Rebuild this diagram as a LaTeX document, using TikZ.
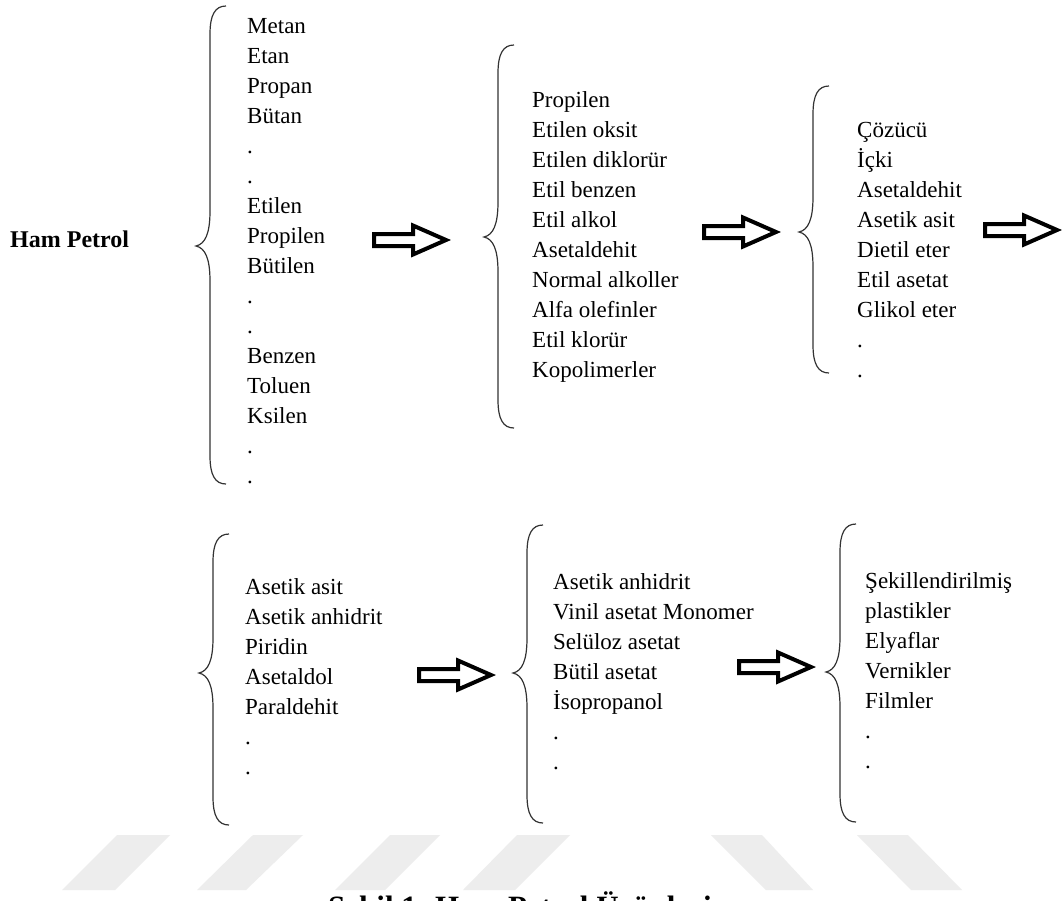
\documentclass[tikz,border=0pt]{standalone}
\usepackage{fontspec}
\setmainfont{Liberation Serif}

\tikzset{
  item/.style={anchor=base west, inner sep=0pt, font=\fontsize{23}{28}\selectfont},
  headline/.style={anchor=base west, inner sep=0pt, font=\bfseries\fontsize{24}{28}\selectfont},
  captiontext/.style={anchor=base west, inner sep=0pt, font=\bfseries\fontsize{31}{36}\selectfont},
  bracestroke/.style={draw=black!80, line width=1.2pt},
  wm/.style={fill=black!7, draw=none},
  % hollow block arrow, left end of the shaft at the origin
  blockarrow/.pic={
    \draw[line width=4pt, line join=miter, miter limit=10]
      (0,-6) -- (39,-6) -- (39,-14.5) -- (72,0) -- (39,14.5) -- (39,6) -- (0,6) -- cycle;
  }
}

% left curly brace: #1 stem x, #2 top y, #3 tip y, #4 bottom y
\newcommand\leftcurly[4]{%
  \draw[bracestroke]
    (#1+16,#2) .. controls (#1+5,#2) and (#1,#2+9) .. (#1,#2+28)
    -- (#1,#3-35)
    .. controls (#1,#3-12) and (#1-5,#3-2) .. (#1-14,#3)
    .. controls (#1-5,#3+2) and (#1,#3+12) .. (#1,#3+35)
    -- (#1,#4-28)
    .. controls (#1,#4-9) and (#1+5,#4) .. (#1+16,#4);}

% column of items: #1 name prefix, #2 x, #3 first baseline, #4 entries
\newcommand\itemcolumn[4]{%
  \foreach \t [count=\i] in {#4}
    \node[item] (#1-\i) at (#2,#3+30*\i-30) {\t};}

\begin{document}
\begin{tikzpicture}[x=1pt,y=-1pt]
\useasboundingbox (0,0) rectangle (1062,900);
\fill[white] (0,0) rectangle (1062,900);
\clip (0,0) rectangle (1062,900);

% faint stripes behind the caption
\fill[wm] (62,890) -- (115,890) -- (170,835) -- (117,835) -- cycle;
\fill[wm] (197,890) -- (246,890) -- (303,835) -- (253,835) -- cycle;
\fill[wm] (335,890) -- (385,890) -- (440,835) -- (390,835) -- cycle;
\fill[wm] (463,890) -- (515,890) -- (570,835) -- (517,835) -- cycle;
\fill[wm] (711,835) -- (762,835) -- (813,890) -- (766,890) -- cycle;
\fill[wm] (857,835) -- (908,835) -- (962,890) -- (911,890) -- cycle;

% top row
\node[headline] (crude) at (10,247) {Ham Petrol};
\leftcurly{210}{6}{246}{484}
\itemcolumn{a}{247}{33}{Metan,Etan,Propan,Bütan,.,.,Etilen,Propilen,Bütilen,.,.,Benzen,Toluen,Ksilen,.,.}
\pic at (374,240) {blockarrow};
\leftcurly{498}{45}{237}{428}
\itemcolumn{b}{532}{107}{Propilen,Etilen oksit,Etilen diklorür,Etil benzen,Etil alkol,Asetaldehit,Normal alkoller,Alfa olefinler,Etil klorür,Kopolimerler}
\pic at (704,232) {blockarrow};
\leftcurly{813}{86}{232}{373}
\itemcolumn{c}{857}{137}{Çözücü,İçki,Asetaldehit,Asetik asit,Dietil eter,Etil asetat,Glikol eter,.,.}
\pic at (985,230) {blockarrow};

% bottom row
\leftcurly{213}{534}{673}{825}
\itemcolumn{d}{245}{594}{Asetik asit,Asetik anhidrit,Piridin,Asetaldol,Paraldehit,.,.}
\pic at (419,675) {blockarrow};
\leftcurly{527}{525}{673}{823}
\itemcolumn{e}{553}{589}{Asetik anhidrit,Vinil asetat Monomer,Selüloz asetat,Bütil asetat,İsopropanol,.,.}
\pic at (739,667) {blockarrow};
\leftcurly{840}{524}{672}{822}
\itemcolumn{f}{865}{588}{Şekillendirilmiş,plastikler,Elyaflar,Vernikler,Filmler,.,.}

% caption, running off the lower edge
\node[captiontext] (caption) at (328,917) {Şekil 1. Ham Petrol Ürünleri};
\end{tikzpicture}
\end{document}
